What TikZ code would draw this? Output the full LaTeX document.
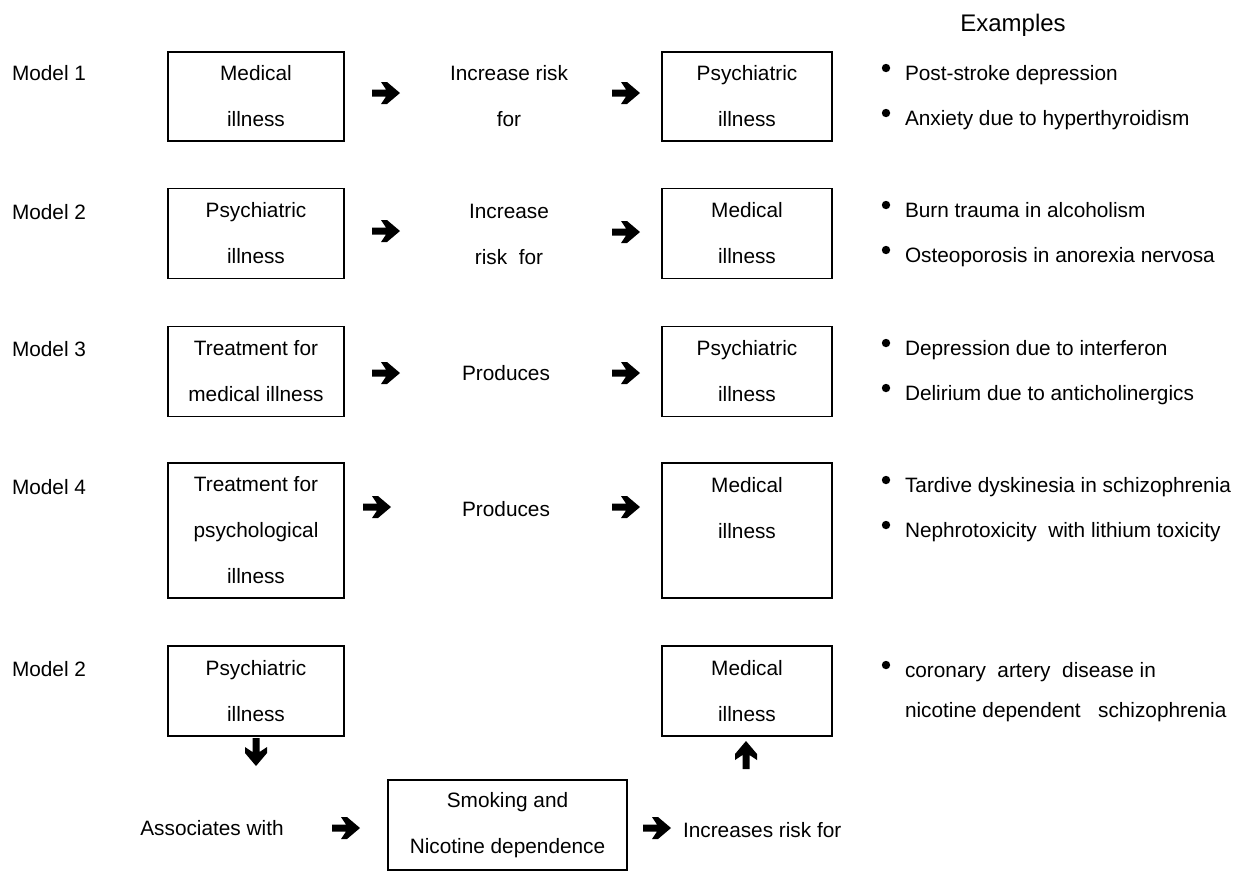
\documentclass[tikz,border=0pt]{standalone}
\usepackage{fontspec}
\setmainfont{Liberation Sans}
\tikzset{
  rarr/.pic={\fill (-14,3.5) -- (0,3.5) -- (-5,11) -- (1,11) -- (14,0) -- (1,-11) -- (-5,-11) -- (0,-3.5) -- (-14,-3.5) -- cycle;},
  darr/.pic={\fill (3.5,-14) -- (3.5,0) -- (11,-5) -- (11,1) -- (0,14) -- (-11,1) -- (-11,-5) -- (-3.5,0) -- (-3.5,-14) -- cycle;},
  uarr/.pic={\fill (3.5,14) -- (3.5,0) -- (11,5) -- (11,-1) -- (0,-14) -- (-11,-1) -- (-11,5) -- (-3.5,0) -- (-3.5,14) -- cycle;},
}
\begin{document}
\begin{tikzpicture}[x=0.5pt,y=-0.5pt,
  every node/.style={font=\fontsize{10.4}{23}\selectfont, inner sep=0pt, outer sep=0pt},
  lbox/.style={draw, line width=0.8pt, minimum width=88pt, minimum height=45pt, align=center},
  rbox/.style={draw, line width=0.8pt, minimum width=85pt, minimum height=45pt, align=center},
  midtext/.style={align=center},
  mlabel/.style={anchor=base west},
  extext/.style={anchor=base west},
  dotb/.style={circle, fill, minimum size=4.2pt},
]
\useasboundingbox (0,0) rectangle (1246,875);

% header
\node[anchor=base, font=\fontsize{12}{14}\selectfont] (hdr) at (1013,31) {Examples};

% model labels
\node[mlabel] (m1) at (12,80) {Model 1};
\node[mlabel] (m2) at (12,219) {Model 2};
\node[mlabel] (m3) at (12,356) {Model 3};
\node[mlabel] (m4) at (12,494) {Model 4};
\node[mlabel] (m5) at (12,676) {Model 2};

% row 1
\node[lbox, minimum height=44.5pt] (l1) at (256,96.5) {Medical\\illness};
\node[midtext] (t1) at (509,96) {Increase risk\\for};
\node[rbox, minimum height=44.5pt] (r1) at (747,96.5) {Psychiatric\\illness};
\pic (a1) at (386,93) {rarr};
\pic (a2) at (626,93) {rarr};

% row 2
\node[lbox] (l2) at (256,233.5) {Psychiatric\\illness};
\node[midtext] (t2) at (509,234) {Increase\\risk\ \ for};
\node[rbox] (r2) at (747,233.5) {Medical\\illness};
\pic (a3) at (386,231) {rarr};
\pic (a4) at (626,232) {rarr};

% row 3
\node[lbox] (l3) at (256,371.5) {Treatment for\\medical illness};
\node[midtext] (t3) at (506,373) {Produces};
\node[rbox] (r3) at (747,371.5) {Psychiatric\\illness};
\pic (a5) at (386,373) {rarr};
\pic (a6) at (626,373) {rarr};

% row 4
\node[lbox, minimum height=67.5pt] (l4) at (256,530.5) {Treatment for\\psychological\\illness};
\node[midtext] (t4) at (506,509) {Produces};
\node[rbox, minimum height=67.5pt] (r4) at (747,530.5) {Medical\\illness\\\mbox{}};
\pic (a7) at (377,507) {rarr};
\pic (a8) at (626,507) {rarr};

% row 5
\node[lbox] (l5) at (256,691) {Psychiatric\\illness};
\node[rbox] (r5) at (747,691) {Medical\\illness};
\pic (a9) at (256,752) {darr};
\pic (a10) at (746,755) {uarr};
\node[midtext] (t5) at (212,828) {Associates with};
\pic (a11) at (346,828) {rarr};
\node[draw, line width=0.8pt, minimum width=119.5pt, minimum height=45pt, align=center] (sm) at (507.5,825) {Smoking and\\Nicotine dependence};
\pic (a12) at (657,828) {rarr};
\node[anchor=base west] (t6) at (683,837) {Increases risk for};

% examples
\node[dotb] (d1) at (886,68) {};
\node[extext] (e1) at (905,80) {Post-stroke depression};
\node[dotb] (d2) at (886,113) {};
\node[extext] (e2) at (905,125) {Anxiety due to hyperthyroidism};

\node[dotb] (d3) at (886,205) {};
\node[extext] (e3) at (905,217) {Burn trauma in alcoholism};
\node[dotb] (d4) at (886,250) {};
\node[extext] (e4) at (905,262) {Osteoporosis in anorexia nervosa};

\node[dotb] (d5) at (886,343) {};
\node[extext] (e5) at (905,355) {Depression due to interferon};
\node[dotb] (d6) at (886,388) {};
\node[extext] (e6) at (905,400) {Delirium due to anticholinergics};

\node[dotb] (d7) at (886,480) {};
\node[extext] (e7) at (905,492) {Tardive dyskinesia in schizophrenia};
\node[dotb] (d8) at (886,525) {};
\node[extext] (e8) at (905,537) {Nephrotoxicity\ \ with lithium toxicity};

\node[dotb] (d9) at (886,665) {};
\node[extext] (e9) at (905,677) {coronary\ \ artery\ \ disease in};
\node[extext] (e10) at (905,717) {nicotine dependent\ \ \ schizophrenia};
\end{tikzpicture}
\end{document}
